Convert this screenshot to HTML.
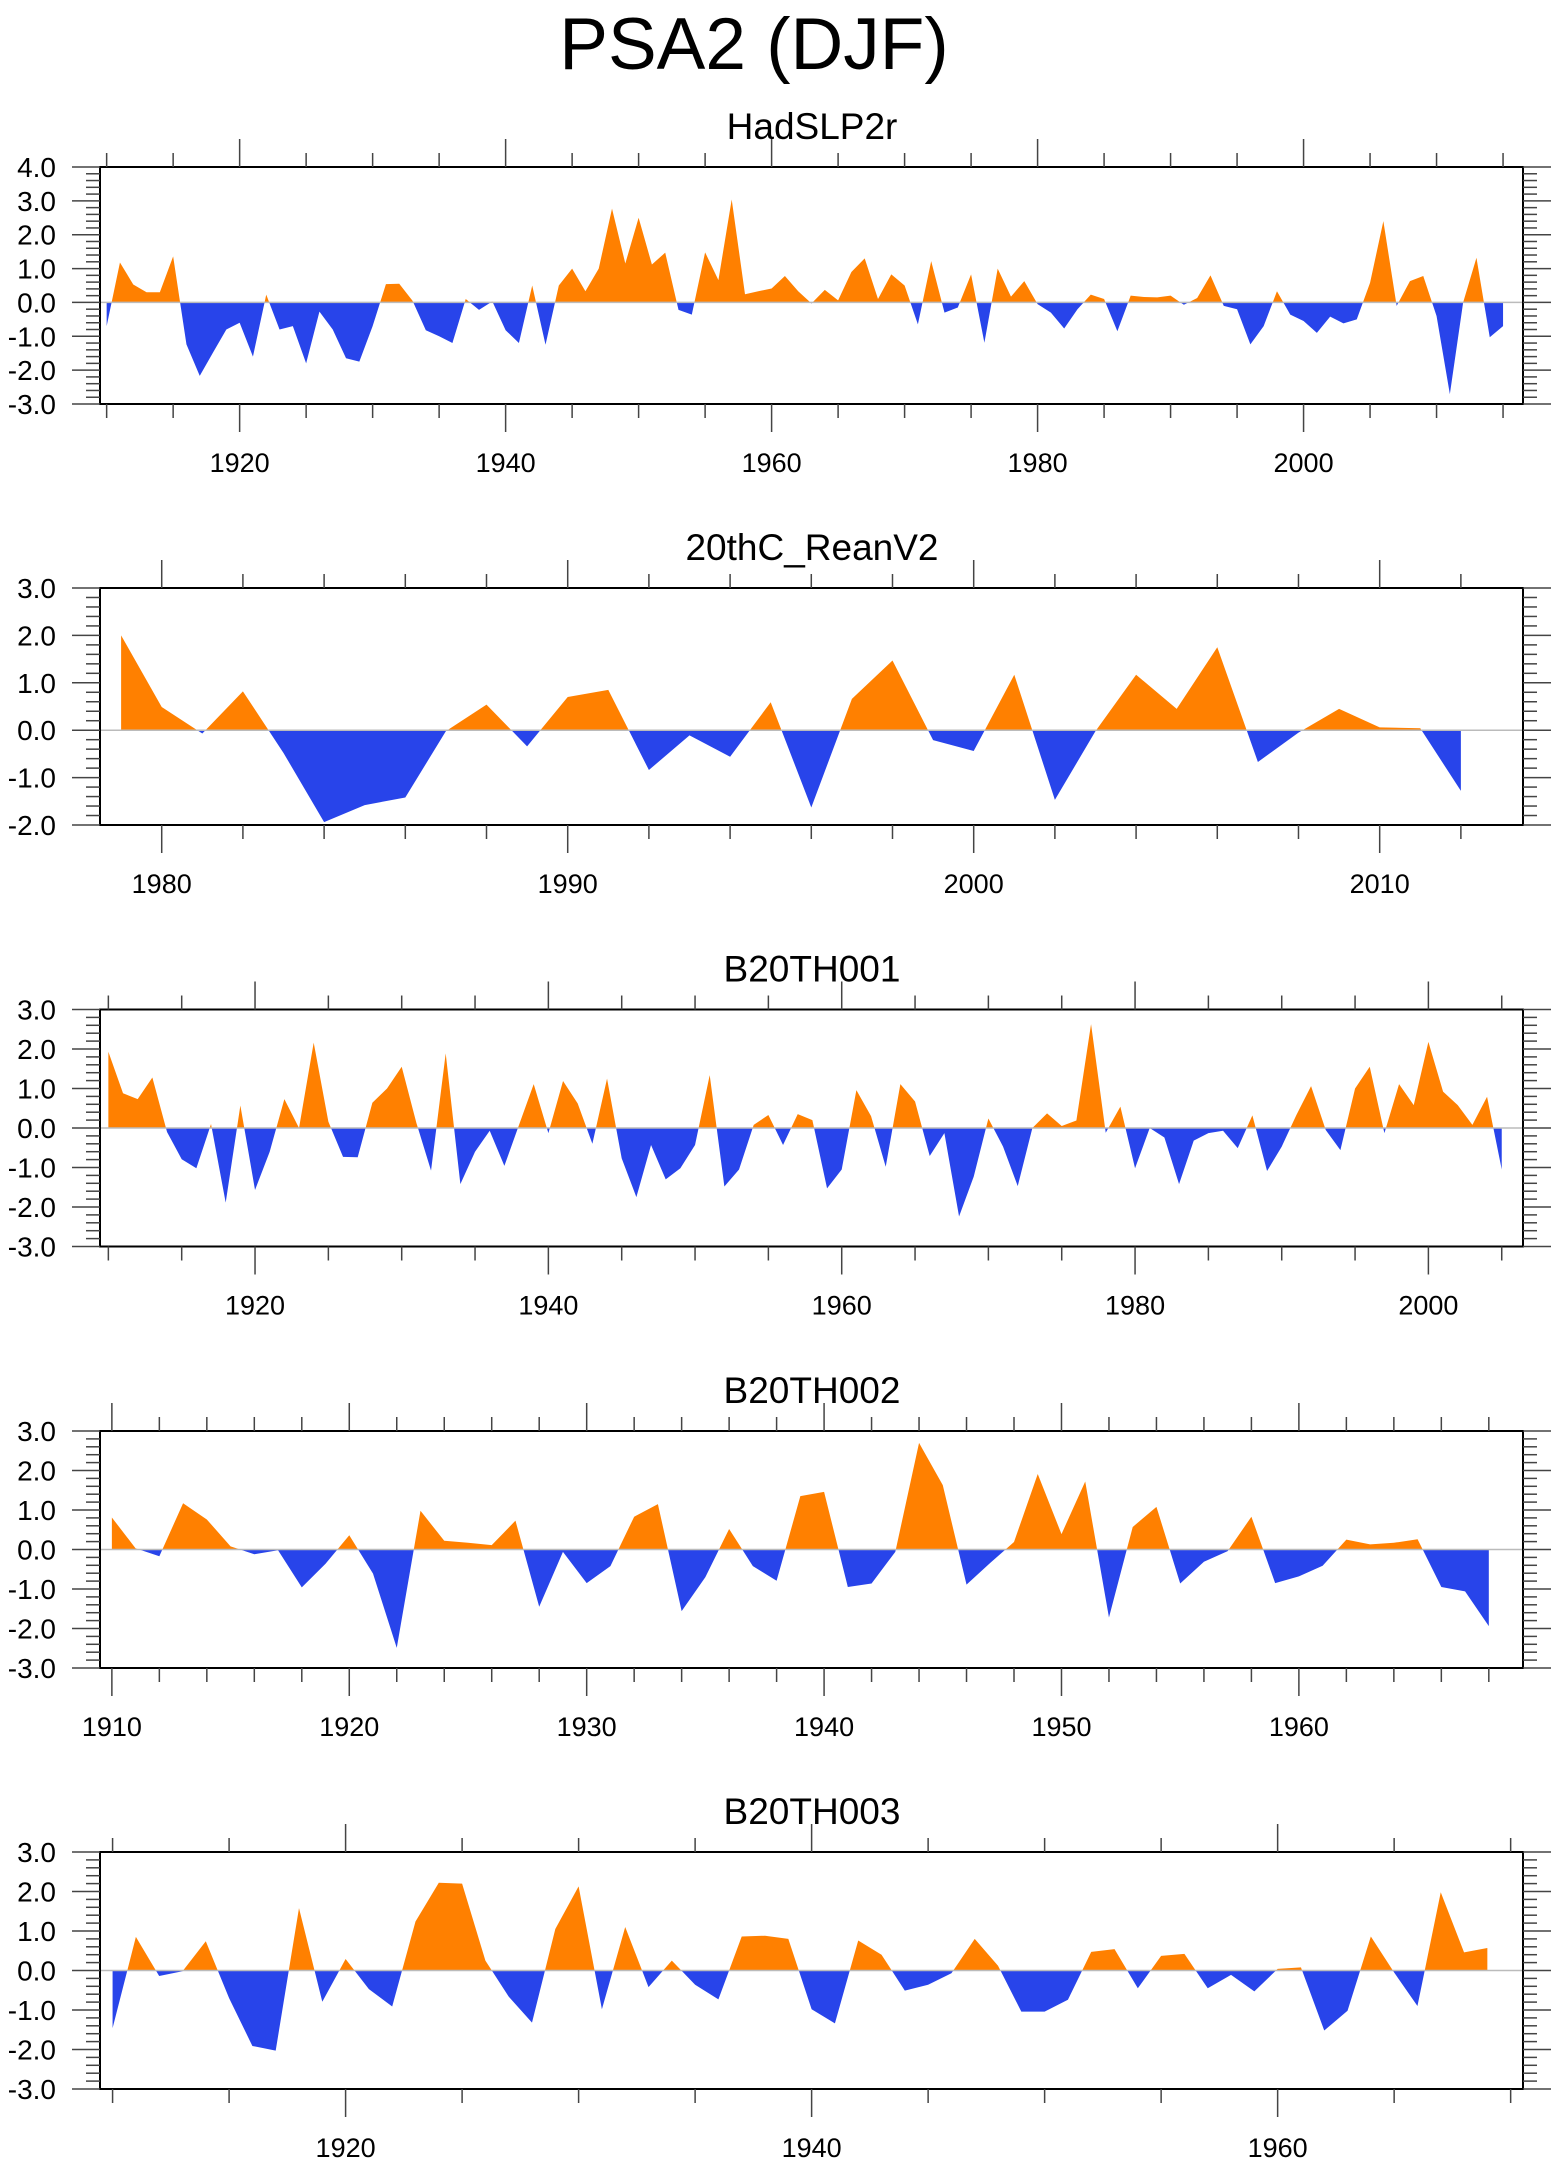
<!DOCTYPE html>
<html><head><meta charset="utf-8"><style>
html,body{margin:0;padding:0;background:#fff;}
svg{display:block;font-family:"Liberation Sans",Arial,sans-serif;}
</style></head><body>
<svg id="chart" xmlns="http://www.w3.org/2000/svg" width="1560" height="2165" viewBox="0 0 1560 2165">
<rect width="1560" height="2165" fill="#fff"/>
<text x="754" y="69" font-size="73" text-anchor="middle" fill="#000">PSA2 (DJF)</text>
</svg>
<script>
// ---- data arrays ----
const panelTitles = ["HadSLP2r","20thC_ReanV2","B20TH001","B20TH002","B20TH003"];
const startYears = [1910, 1979, 1910, 1910, 1910];
const hadslp2rValues = [-0.7,1.18,0.53,0.3,0.3,1.36,-1.24,-2.17,-1.48,-0.8,-0.6,-1.6,0.23,-0.8,-0.7,-1.8,-0.27,-0.8,-1.65,-1.75,-0.7,0.54,0.55,0.05,-0.82,-1.0,-1.2,0.1,-0.22,0.03,-0.82,-1.2,0.5,-1.25,0.5,1.0,0.33,1.0,2.77,1.15,2.5,1.12,1.47,-0.22,-0.36,1.48,0.66,3.04,0.24,0.33,0.41,0.78,0.33,-0.03,0.37,0.06,0.9,1.3,0.1,0.83,0.5,-0.65,1.22,-0.3,-0.15,0.83,-1.19,1.0,0.17,0.63,-0.05,-0.3,-0.77,-0.2,0.23,0.1,-0.85,0.2,0.16,0.15,0.2,-0.07,0.13,0.8,-0.1,-0.2,-1.24,-0.7,0.33,-0.36,-0.55,-0.9,-0.42,-0.62,-0.5,0.58,2.4,-0.1,0.63,0.78,-0.4,-2.71,0.0,1.32,-1.03,-0.7];
const reanV2Values = [2.0,0.49,-0.07,0.82,-0.48,-1.94,-1.58,-1.42,-0.02,0.54,-0.34,0.7,0.85,-0.84,-0.11,-0.56,0.59,-1.63,0.66,1.47,-0.21,-0.44,1.17,-1.47,-0.02,1.17,0.45,1.75,-0.67,-0.05,0.45,0.06,0.04,-1.28];
const b20th001Values = [1.93,0.88,0.73,1.28,-0.1,-0.79,-1.02,0.1,-1.89,0.57,-1.57,-0.6,0.73,0.0,2.16,0.16,-0.73,-0.74,0.64,1.0,1.55,0.13,-1.08,1.89,-1.42,-0.6,-0.07,-0.96,0.08,1.11,-0.13,1.19,0.62,-0.4,1.25,-0.77,-1.75,-0.43,-1.3,-1.02,-0.43,1.34,-1.48,-1.05,0.08,0.33,-0.43,0.35,0.2,-1.53,-1.05,0.96,0.3,-0.98,1.11,0.67,-0.71,-0.13,-2.24,-1.23,0.24,-0.47,-1.47,0.0,0.37,0.05,0.19,2.63,-0.12,0.54,-1.02,0.0,-0.24,-1.42,-0.32,-0.13,-0.07,-0.51,0.32,-1.09,-0.47,0.33,1.06,-0.05,-0.56,1.0,1.55,-0.13,1.11,0.58,2.18,0.92,0.58,0.08,0.79,-1.05];
const b20th002Values = [0.81,0.03,-0.17,1.17,0.76,0.08,-0.12,-0.02,-0.96,-0.36,0.36,-0.61,-2.49,0.98,0.22,0.17,0.11,0.73,-1.45,-0.06,-0.85,-0.42,0.83,1.15,-1.56,-0.7,0.52,-0.42,-0.79,1.35,1.46,-0.95,-0.86,-0.06,2.7,1.63,-0.89,-0.34,0.19,1.91,0.39,1.72,-1.72,0.57,1.08,-0.86,-0.31,-0.04,0.83,-0.85,-0.68,-0.41,0.25,0.13,0.17,0.26,-0.95,-1.06,-1.94];
const b20th003Values = [-1.46,0.85,-0.14,-0.02,0.74,-0.7,-1.91,-2.03,1.58,-0.79,0.29,-0.47,-0.91,1.24,2.22,2.2,0.25,-0.66,-1.32,1.05,2.13,-0.98,1.1,-0.42,0.25,-0.36,-0.73,0.86,0.88,0.8,-0.98,-1.34,0.76,0.4,-0.51,-0.36,-0.07,0.8,0.12,-1.04,-1.04,-0.74,0.47,0.54,-0.45,0.37,0.42,-0.45,-0.11,-0.53,0.04,0.08,-1.52,-1.02,0.86,-0.05,-0.9,1.98,0.46,0.57];
const seriesValues = [hadslp2rValues, reanV2Values, b20th001Values, b20th002Values, b20th003Values];
const xDomains = [[1909.5,2016.5],[1978.48,2013.53],[1909.43,2006.45],[1909.5,1969.44],[1909.46,1970.53]];
const yDomains = [[-3,4],[-2,3],[-3,3],[-3,3],[-3,3]];
const xMajorStep = [20,10,20,10,20];
const xMinorStep = [5,2,5,2,5];

// ---- layout ----
const NS = "http://www.w3.org/2000/svg";
const svg = document.getElementById('chart');
const L = 100, R = 1523, H = 237;
const tops = [167, 588, 1009.5, 1431, 1852];

function mk(tag, attrs, parent){
  const e = document.createElementNS(NS, tag);
  for (const k in attrs) e.setAttribute(k, attrs[k]);
  (parent || svg).appendChild(e);
  return e;
}

panelTitles.forEach((title, p) => {
  const top = tops[p], bot = top + H;
  const [x0, x1] = xDomains[p], [y0, y1] = yDomains[p];
  const xs = v => L + (v - x0) / (x1 - x0) * (R - L);
  const ys = v => bot - (v - y0) / (y1 - y0) * H;
  const g = mk('g', {});
  
  

  const t = mk('text', {x: 812, y: top - 28, 'font-size': 37, 'text-anchor': 'middle', fill: '#000'}, g);
  
  
  t.textContent = title;

  const vals = seriesValues[p], sy = startYears[p];
  const z = ys(0);
  let d = 'M' + xs(sy) + ',' + z;
  vals.forEach((v, i) => { d += ' L' + xs(sy + i) + ',' + ys(v); });
  d += ' L' + xs(sy + vals.length - 1) + ',' + z + ' Z';
  const cidA = 'clipA' + p, cidB = 'clipB' + p;
  const defs = mk('defs', {}, g);
  const cA = mk('clipPath', {id: cidA}, defs);
  mk('rect', {x: L, y: top, width: R - L, height: z - top}, cA);
  const cB = mk('clipPath', {id: cidB}, defs);
  mk('rect', {x: L, y: z, width: R - L, height: bot - z}, cB);
  const pa = mk('path', {d: d, fill: '#ff8000', 'clip-path': 'url(#' + cidA + ')'}, g);
  
  
  const pb = mk('path', {d: d, fill: '#2844ea', 'clip-path': 'url(#' + cidB + ')'}, g);
  
  
  const zl = mk('line', {x1: L, x2: R, y1: z, y2: z, stroke: '#bbb', 'stroke-width': 1.5}, g);
  
  

  const fr = mk('rect', {x: L, y: top, width: R - L, height: H, fill: 'none', stroke: '#000', 'stroke-width': 2}, g);
  
  

  const ms = xMinorStep[p], Ms = xMajorStep[p];
  for (let yr = Math.ceil(x0 / ms) * ms; yr <= x1; yr += ms) {
    const X = xs(yr), major = yr % Ms === 0, len = major ? 28 : 14;
    mk('line', {x1: X, x2: X, y1: top, y2: top - len, stroke: '#444', 'stroke-width': 1.5}, g);
    mk('line', {x1: X, x2: X, y1: bot, y2: bot + len, stroke: '#444', 'stroke-width': 1.5}, g);
    if (major) {
      const lb = mk('text', {x: X, y: bot + 68, 'font-size': 27, 'text-anchor': 'middle', fill: '#000'}, g);
      
      
      lb.textContent = yr;
    }
  }
  for (let k = Math.round(y0 * 5); k <= Math.round(y1 * 5); k++) {
    const v = k / 5, Y = ys(v), major = k % 5 === 0, len = major ? 28 : 14;
    mk('line', {x1: L, x2: L - len, y1: Y, y2: Y, stroke: '#444', 'stroke-width': 1.5}, g);
    mk('line', {x1: R, x2: R + len, y1: Y, y2: Y, stroke: '#444', 'stroke-width': 1.5}, g);
    if (major) {
      const lb = mk('text', {x: 56, y: Y + 10, 'font-size': 28, 'text-anchor': 'end', fill: '#000'}, g);
      
      
      lb.textContent = v.toFixed(1);
    }
  }
});
</script>
</body></html>
